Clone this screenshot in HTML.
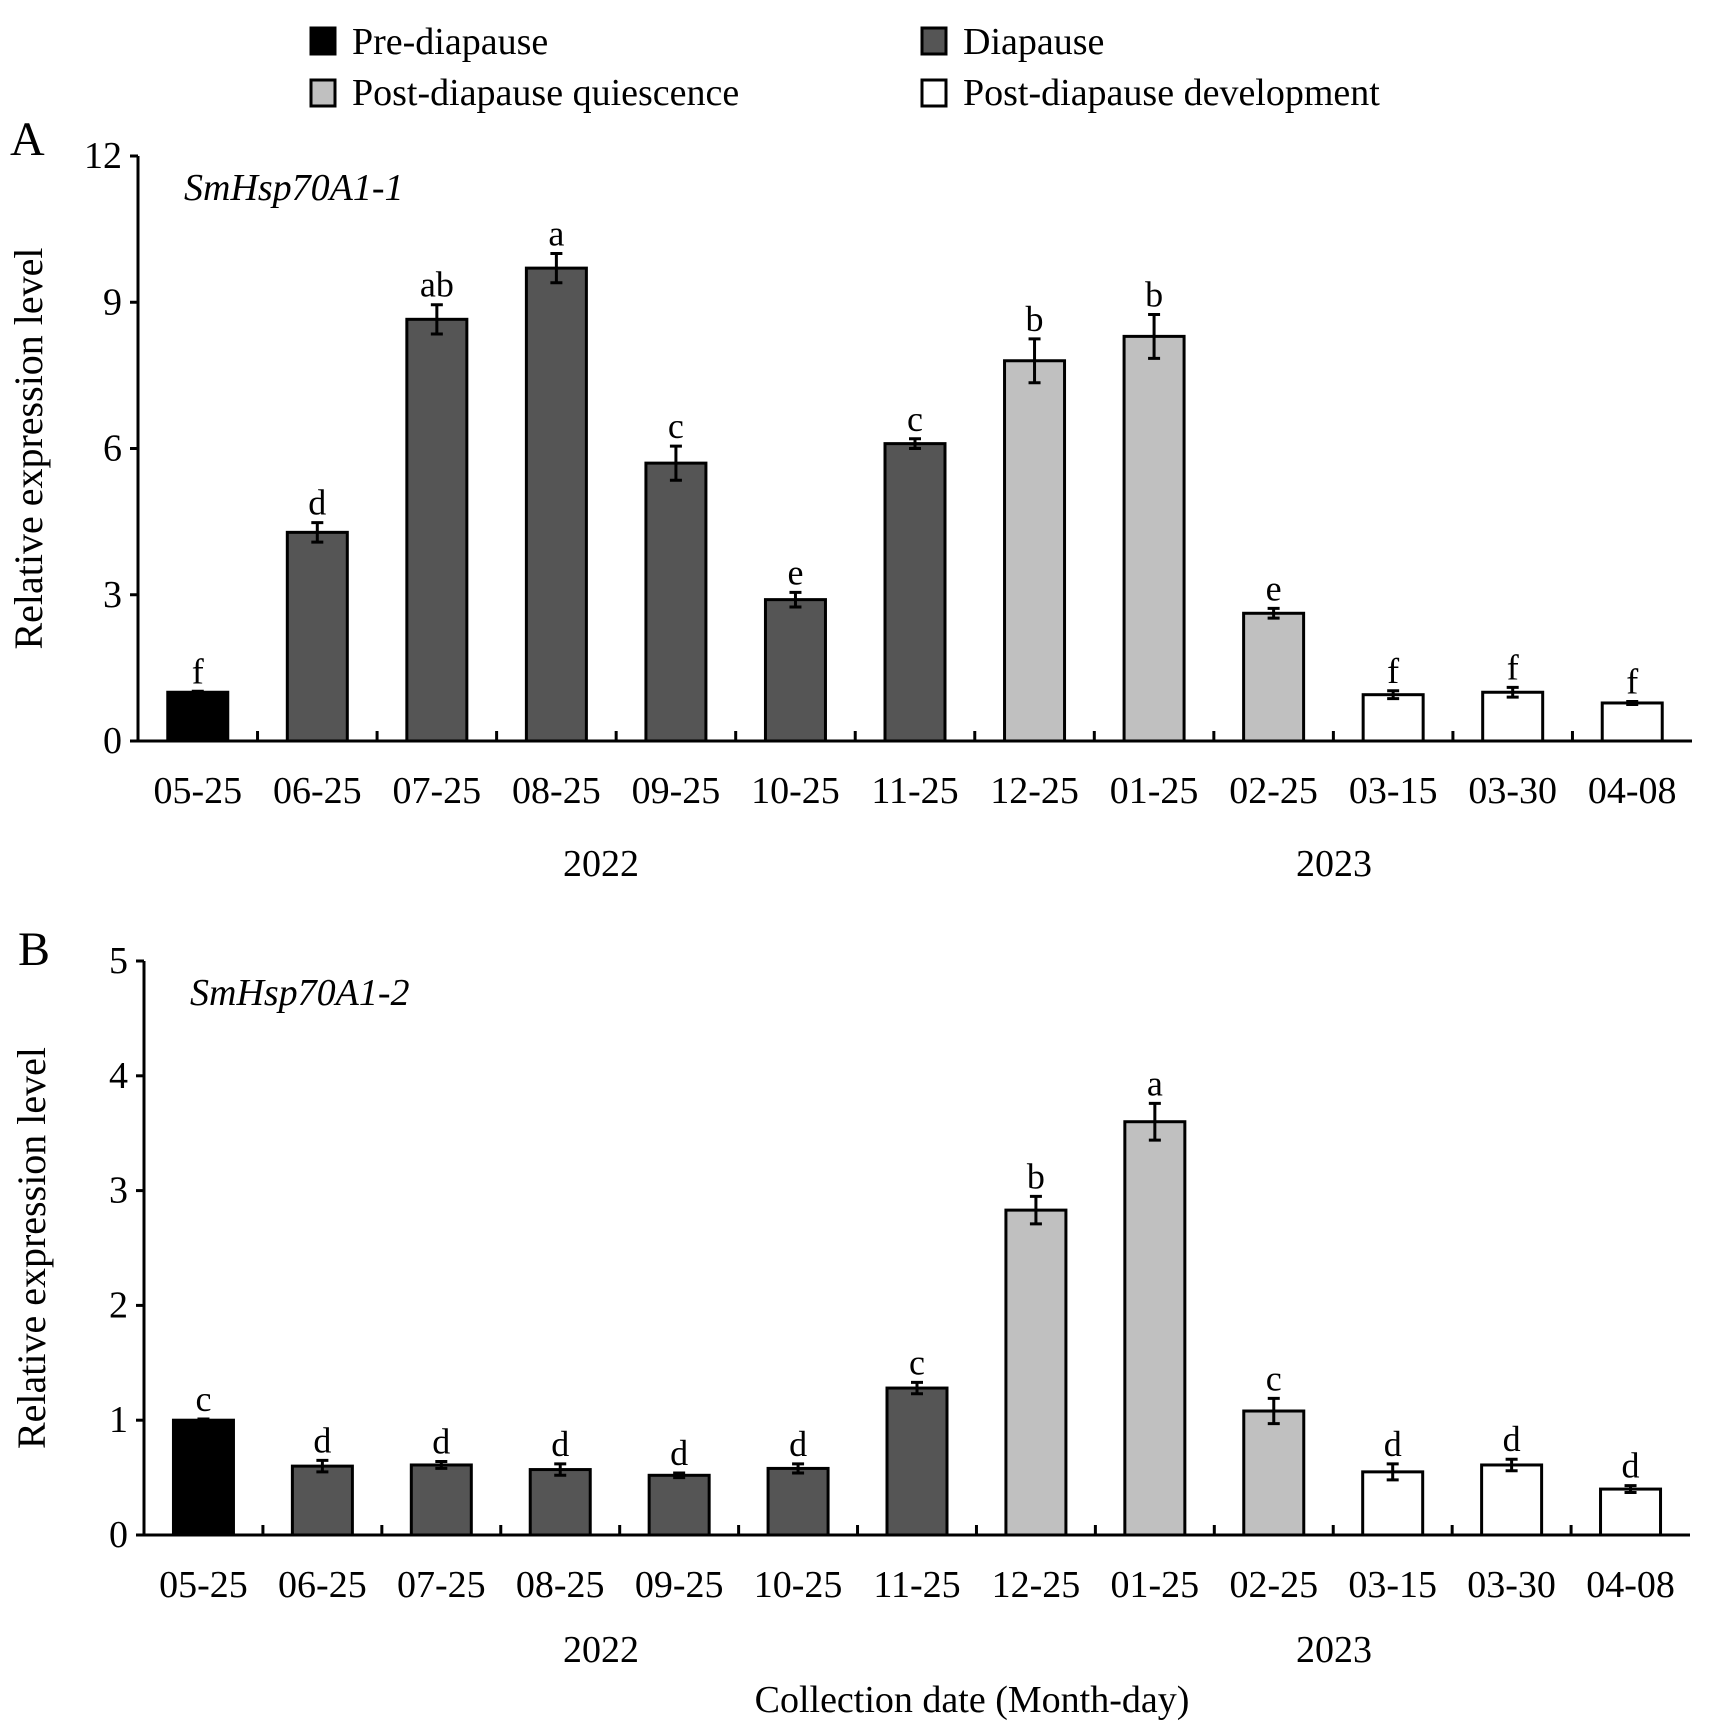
<!DOCTYPE html>
<html><head><meta charset="utf-8"><style>
body{margin:0;background:#fff}
svg{display:block;font-family:"Liberation Serif",serif}
</style></head><body>
<svg id="chart" width="1712" height="1733" viewBox="0 0 1712 1733">
<g font-size="38">
 <g><rect x="311" y="28" width="24" height="26" fill="#000" stroke="#000" stroke-width="3"/><text x="352" y="54">Pre-diapause</text></g>
 <g><rect x="922" y="28" width="24" height="26" fill="#555" stroke="#000" stroke-width="3"/><text x="963" y="54">Diapause</text></g>
 <g><rect x="311" y="80" width="24" height="26" fill="#c0c0c0" stroke="#000" stroke-width="3"/><text x="352" y="105">Post-diapause quiescence</text></g>
 <g><rect x="922" y="80" width="24" height="26" fill="#fff" stroke="#000" stroke-width="3"/><text x="963" y="105">Post-diapause development</text></g>
</g>
<text x="10" y="155" font-size="48">A</text>
<text x="18" y="965" font-size="48">B</text>
<g id="pa"></g>
<g id="pb"></g>
<text x="972" y="1712" font-size="38" text-anchor="middle">Collection date (Month-day)</text>
</svg>
<script>
const categories=["05-25","06-25","07-25","08-25","09-25","10-25","11-25","12-25","01-25","02-25","03-15","03-30","04-08"];
const stages=[0,1,1,1,1,1,1,2,2,2,3,3,3];
const valuesA=[1.0,4.28,8.65,9.7,5.7,2.9,6.1,7.8,8.3,2.62,0.95,1.0,0.78];
const errorsA=[0.02,0.2,0.3,0.3,0.35,0.15,0.1,0.45,0.45,0.1,0.08,0.1,0.03];
const lettersA=["f","d","ab","a","c","e","c","b","b","e","f","f","f"];
const ticksA=[0,3,6,9,12];
const valuesB=[1.0,0.6,0.61,0.57,0.52,0.58,1.28,2.83,3.6,1.08,0.55,0.61,0.4];
const errorsB=[0.01,0.05,0.03,0.05,0.02,0.04,0.05,0.12,0.16,0.11,0.07,0.05,0.03];
const lettersB=["c","d","d","d","d","d","c","b","a","c","d","d","d"];
const ticksB=[0,1,2,3,4,5];
const years=["2022","2023"];
const fills=["#000","#555","#c0c0c0","#fff"];
const NS="http://www.w3.org/2000/svg";
function mk(p,t,a){const e=document.createElementNS(NS,t);for(const k in a)e.setAttribute(k,a[k]);p.appendChild(e);return e;}
function panel(g,o,vals,errs,lets,ticks,gene){
 const yS=v=>o.y0-(v/o.max)*(o.y0-o.yTop);
 const step=(o.xEnd-o.x0)/categories.length;
 const xC=i=>o.x0+step*(i+0.5);
 let ax=mk(g,'line',{x1:o.x0,y1:o.yTop,x2:o.x0,y2:o.y0+1.5,stroke:'#000','stroke-width':3});
 
 ticks.forEach(t=>{mk(g,'line',{x1:o.x0-8,x2:o.x0,y1:yS(t),y2:yS(t),stroke:'#000','stroke-width':3});
  const tx=mk(g,'text',{x:o.x0-16,y:yS(t)+12,'font-size':38,'text-anchor':'end'});tx.textContent=t;
  });
 const yt=mk(g,'text',{transform:`translate(${o.tx},${(o.yTop+o.y0)/2}) rotate(-90)`,'font-size':40,'text-anchor':'middle'});
 yt.textContent='Relative expression level';
 const gn=mk(g,'text',{x:o.x0+46,y:o.yTop+44,'font-size':38,'font-style':'italic'});gn.textContent=gene;
 
 vals.forEach((v,i)=>{
  const c=xC(i),w=60;
  const r=mk(g,'rect',{x:c-w/2,y:yS(v),width:w,height:o.y0-yS(v),fill:fills[stages[i]],stroke:'#000','stroke-width':3});
  
  const e=errs[i],t=yS(v+e),b=yS(v-e);
  mk(g,'path',{d:`M${c},${t}V${b}M${c-6},${t}H${c+6}M${c-6},${b}H${c+6}`,stroke:'#000','stroke-width':3,fill:'none'});
  const l=mk(g,'text',{x:c,y:t-8,'font-size':36,'text-anchor':'middle'});l.textContent=lets[i];
  
  const xl=mk(g,'text',{x:c,y:o.y0+62,'font-size':38,'text-anchor':'middle'});xl.textContent=categories[i];
  
  if(i>0)mk(g,'line',{x1:o.x0+step*i,x2:o.x0+step*i,y1:o.y0-10,y2:o.y0,stroke:'#000','stroke-width':3});
 });
 const xa=mk(g,'line',{x1:o.x0,y1:o.y0,x2:o.xEnd,y2:o.y0,stroke:'#000','stroke-width':3});
 
 [601,1334].forEach((x,k)=>{const y=mk(g,'text',{x:x,y:o.yYear,'font-size':38,'text-anchor':'middle'});y.textContent=years[k];
  });
}
panel(document.getElementById('pa'),{x0:138,xEnd:1692,yTop:156,y0:741,max:12,tx:42,yYear:876},valuesA,errorsA,lettersA,ticksA,'SmHsp70A1-1');
panel(document.getElementById('pb'),{x0:144,xEnd:1690,yTop:961,y0:1535,max:5,tx:45,yYear:1662},valuesB,errorsB,lettersB,ticksB,'SmHsp70A1-2');
</script>
</body></html>
